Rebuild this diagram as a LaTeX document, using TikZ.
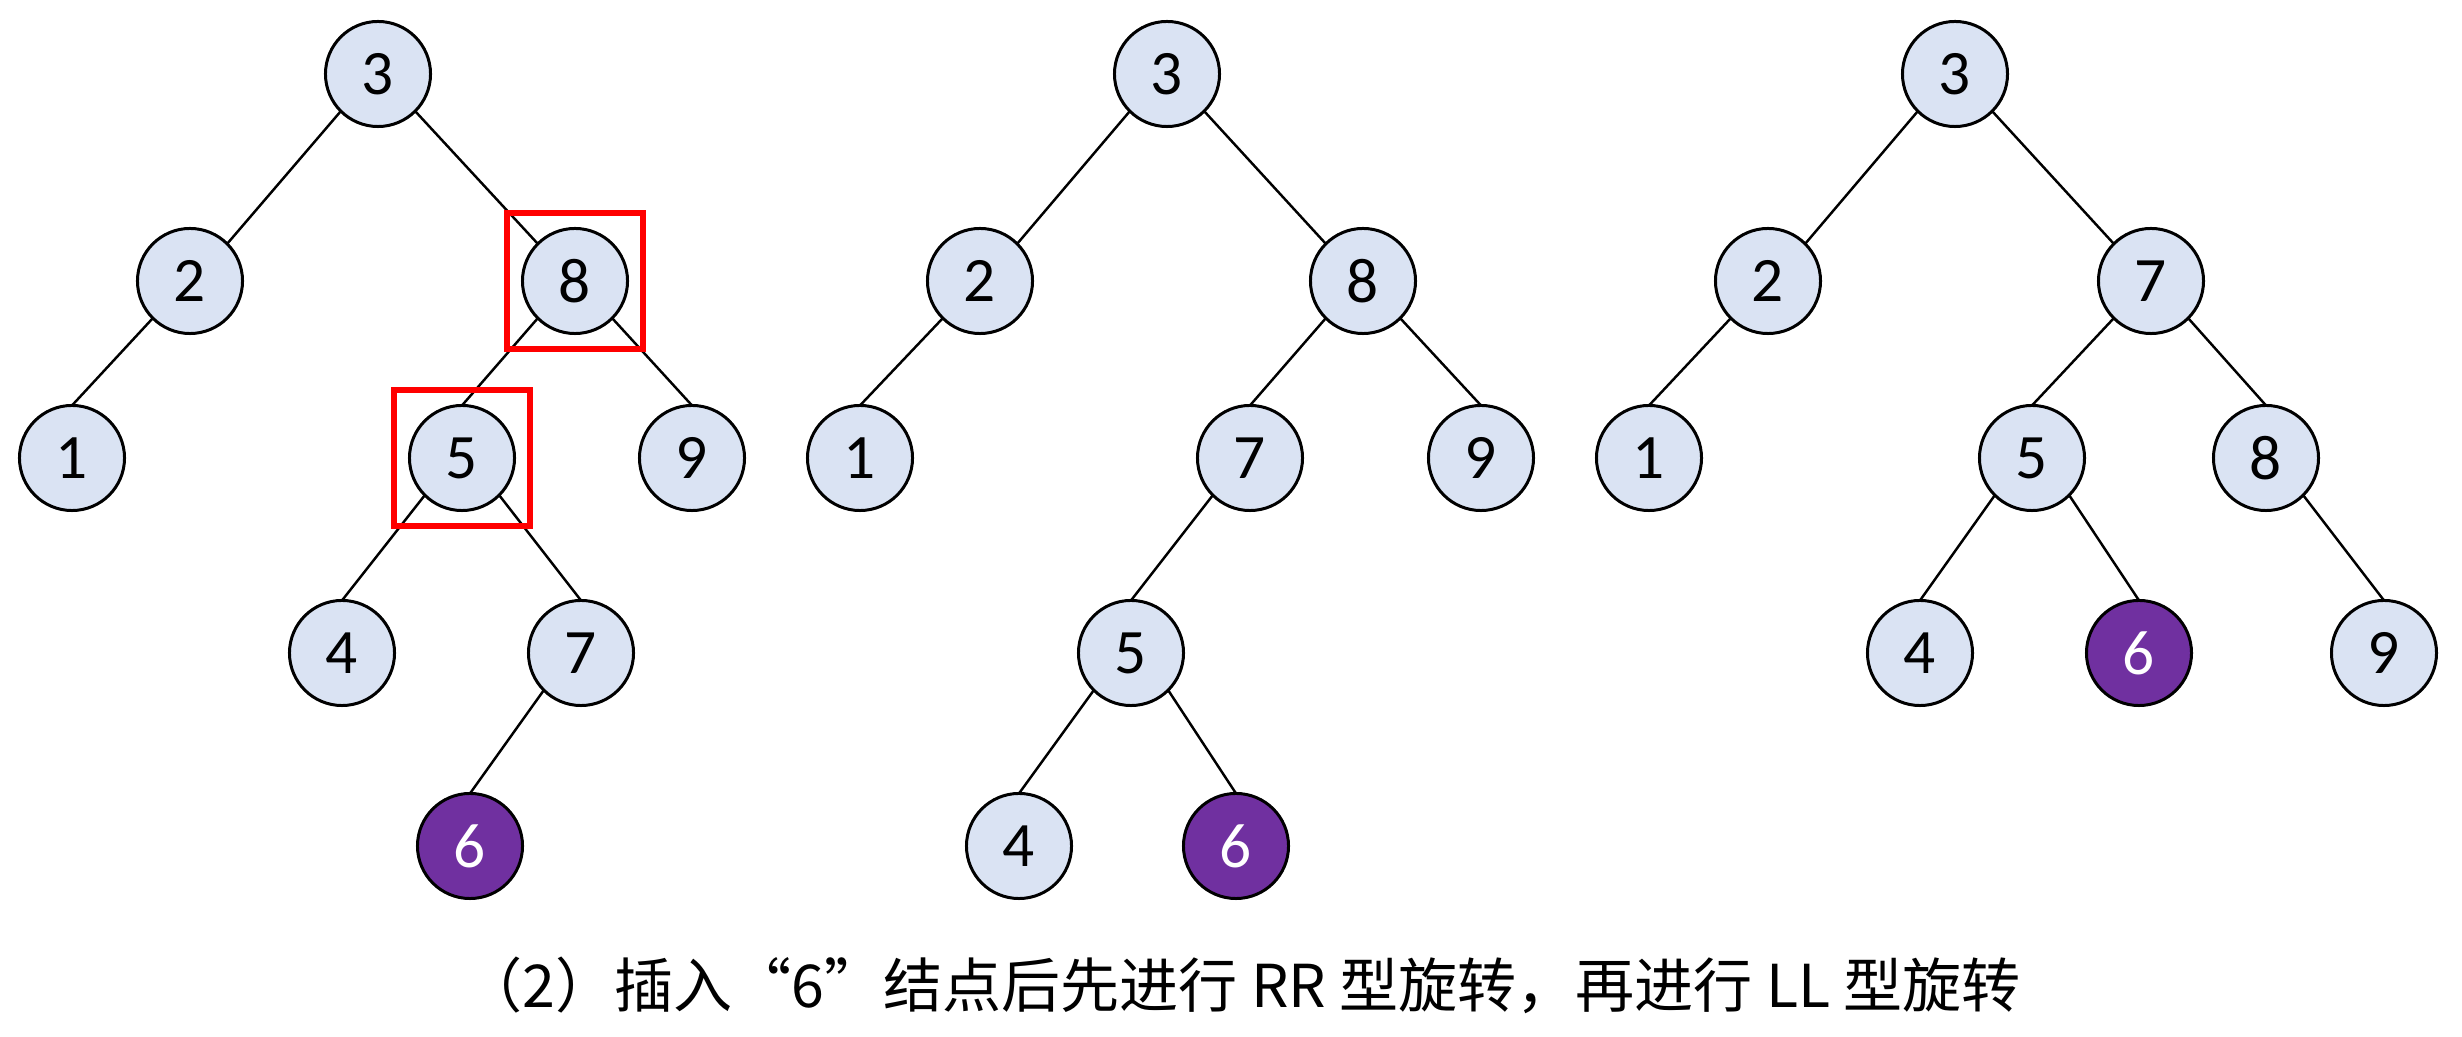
\documentclass[tikz,border=0pt]{standalone}
\usepackage{fontspec}
\setmainfont{Carlito}
\newfontfamily\cjk{Noto Sans CJK SC}
\definecolor{nodeblue}{RGB}{218,227,243}
\definecolor{newpurple}{RGB}{112,48,160}

\begin{document}
\begin{tikzpicture}[x=0.01cm,y=-0.01cm,
        vtx/.style={circle,draw=black,line width=.85pt,fill=nodeblue,minimum size=1.05cm,inner sep=0pt,outer sep=0pt,font=\fontsize{18}{20}\selectfont},
        newvtx/.style={vtx,fill=newpurple,text=white},
        redbox/.style={draw=red,line width=1.7pt,minimum size=1.35cm,inner sep=0pt},
        edge/.style={line width=.7pt,black}]
            \useasboundingbox (0,0) rectangle (2462,1037);

            % tree before rotation
            \foreach \n/\x/\y in {3/378/74,2/190/281,8/575/281,1/72/458,5/462/458,9/692/458,4/342/653,7/581/653} {
            \node[vtx] (a\n) at (\x,\y) {\n};}
            \node[newvtx] (a6) at (470,846) {6};
            \foreach \u/\p/\v/\q in {3/south west/2/north east,3/south east/8/north west,2/south west/1/north,8/south west/5/north,8/south east/9/north,5/south west/4/north,5/south east/7/north,7/south west/6/north} {
            \draw[edge] (a\u.\p) -- (a\v.\q);}
            \node[redbox] (box8) at (a8) {};
            \node[redbox] (box5) at (a5) {};

            % after RR rotation
            \foreach \n/\x/\y in {3/1167/74,2/980/281,8/1363/281,1/860/458,7/1250/458,9/1481/458,5/1131/653,4/1019/846} {
            \node[vtx] (b\n) at (\x,\y) {\n};}
            \node[newvtx] (b6) at (1236,846) {6};
            \foreach \u/\p/\v/\q in {3/south west/2/north east,3/south east/8/north west,2/south west/1/north,8/south west/7/north,8/south east/9/north,7/south west/5/north,5/south west/4/north,5/south east/6/north} {
            \draw[edge] (b\u.\p) -- (b\v.\q);}

            % after LL rotation
            \foreach \n/\x/\y in {3/1955/74,2/1768/281,7/2151/281,1/1649/458,5/2032/458,8/2266/458,4/1920/653,9/2384/653} {
            \node[vtx] (c\n) at (\x,\y) {\n};}
            \node[newvtx] (c6) at (2139,653) {6};
            \foreach \u/\p/\v/\q in {3/south west/2/north east,3/south east/7/north west,2/south west/1/north,7/south west/5/north,7/south east/8/north,5/south west/4/north,5/south east/6/north,8/south east/9/north} {
            \draw[edge] (c\u.\p) -- (c\v.\q);}

            \node[font=\cjk\fontsize{16.8}{20}\selectfont] (caption) at (1242,985) {（2）插入“6”结点后先进行 RR 型旋转，再进行 LL 型旋转};
        \end{tikzpicture}
\end{document}
